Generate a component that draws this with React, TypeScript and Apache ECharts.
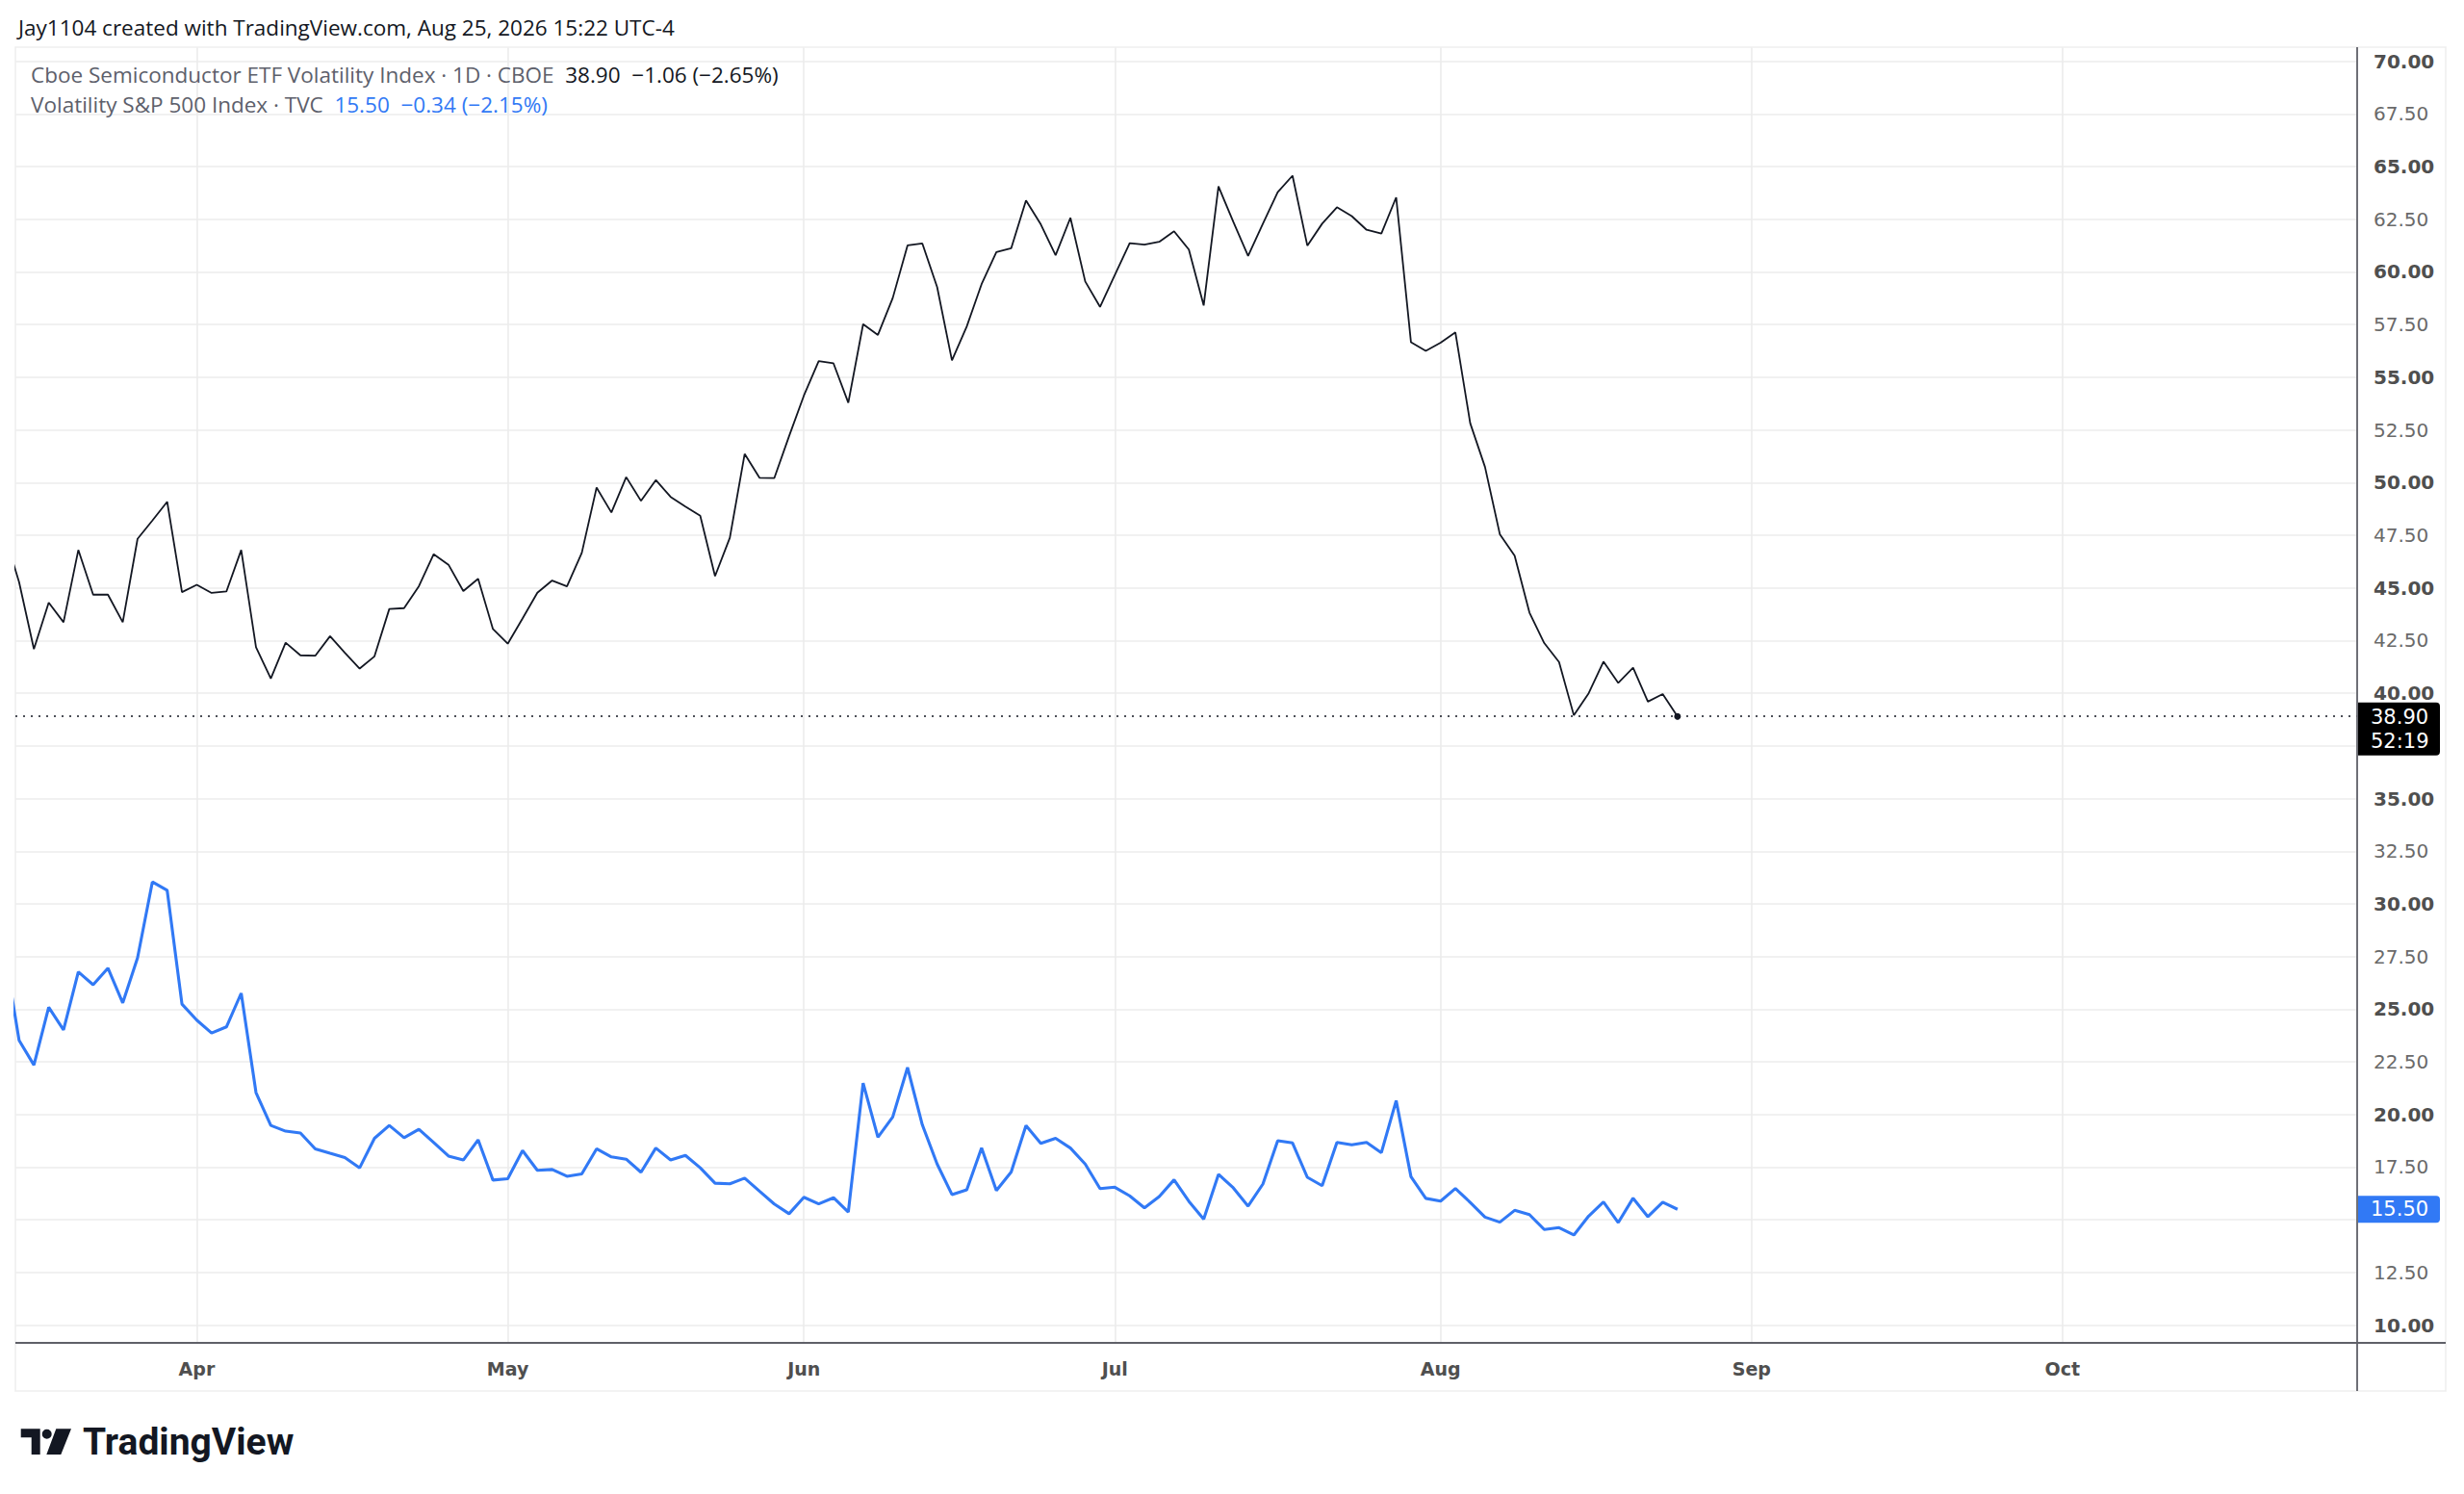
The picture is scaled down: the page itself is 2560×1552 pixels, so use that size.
import React, { useEffect, useRef } from "react";
import * as echarts from "echarts";

// ---------- texts ----------
const HEADER = "Jay1104 created with TradingView.com, Aug 25, 2026 15:22 UTC-4";
const SOX_NAME = "Cboe Semiconductor ETF Volatility Index · 1D · CBOE";
const VIX_NAME = "Volatility S&P 500 Index · TVC";
const COUNTDOWN = "52:19";
const BRAND = "TradingView";
const MONTHS = ["Jan", "Feb", "Mar", "Apr", "May", "Jun", "Jul", "Aug", "Sep", "Oct", "Nov", "Dec"];

// ---------- calendar (trading days) ----------
const FIRST_DATE = "2026-03-13";
const AXIS_END_DATE = "2026-10-31";
const HOLIDAYS = ["2026-04-03", "2026-05-25", "2026-06-19", "2026-07-03", "2026-09-07"];

// ---------- series values (daily closes, from 2026-03-13) ----------
const SOX_VIX = [
  47.6, 45.27, 42.1, 44.3, 43.37, 46.8, 44.68, 44.68, 43.37, 47.33, 48.2, 49.09, 44.8,
  45.15, 44.76, 44.83, 46.8, 42.18, 40.7, 42.4, 41.8, 41.78, 42.71, 41.92, 41.17, 41.75,
  44.0, 44.04, 45.08, 46.6, 46.1, 44.85, 45.43, 43.05,
  42.35, 43.55, 44.77, 45.35, 45.07, 46.66, 49.76, 48.58, 50.26, 49.13, 50.12, 49.32,
  48.86, 48.43, 45.56, 47.38, 51.36, 50.23, 50.21, 52.2,
  54.13, 55.77, 55.66, 53.79, 57.52, 57.01, 58.76, 61.26, 61.35, 59.28, 55.8, 57.41,
  59.42, 60.94, 61.12, 63.39, 62.26, 60.79, 62.57, 59.55, 58.34,
  59.86, 61.36, 61.3, 61.43, 61.93, 61.06, 58.41, 64.06, 62.38, 60.76, 62.29, 63.79,
  64.57, 61.25, 62.29, 63.07, 62.65, 62.0, 61.82, 63.54, 56.66, 56.25,
  56.64, 57.13, 52.82, 50.74, 47.55, 46.53, 43.83, 42.38, 41.48, 38.95, 40.0, 41.5,
  40.49, 41.21, 39.6, 39.96, 38.9,
];

const VIX = [
  27.8, 23.52, 22.35, 25.09, 24.02, 26.77, 26.16, 26.95, 25.3, 27.44, 31.04, 30.64, 25.24,
  24.48, 23.87, 24.16, 25.76, 21.04, 19.48, 19.21, 19.12, 18.37, 18.16, 17.96, 17.47, 18.87,
  19.48, 18.9, 19.3, 18.67, 18.03, 17.84, 18.8, 16.89,
  16.95, 18.29, 17.35, 17.39, 17.07, 17.18, 18.37, 17.99, 17.88, 17.26, 18.41, 17.84,
  18.06, 17.47, 16.74, 16.71, 16.98, 16.36, 15.75, 15.29,
  16.07, 15.76, 16.05, 15.37, 21.49, 18.92, 19.88, 22.23, 19.51, 17.65, 16.2, 16.43,
  18.41, 16.39, 17.27, 19.48, 18.63, 18.87, 18.41, 17.65, 16.48,
  16.55, 16.14, 15.57, 16.11, 16.9, 15.88, 15.03, 17.16, 16.52, 15.65, 16.7, 18.76,
  18.65, 17.02, 16.62, 18.68, 18.56, 18.68, 18.19, 20.66, 17.05, 16.02,
  15.89, 16.49, 15.83, 15.13, 14.89, 15.45, 15.25, 14.54, 14.63, 14.28, 15.18, 15.85,
  14.87, 16.03, 15.15, 15.84, 15.5,
];

// ---------- axis ----------
const Y_TICKS = [10, 12.5, 15, 17.5, 20, 22.5, 25, 27.5, 30, 32.5, 35, 37.5, 40, 42.5, 45, 47.5, 50, 52.5, 55, 57.5, 60, 62.5, 65, 67.5, 70];
const Y_MIN = 9.16;
const Y_MAX = 70.67;
const X_MIN = 0.75;
const X_MAX = 158.9;

// ---------- colours ----------
const BLACK = "#131722";
const BLUE = "#3179f5";
const GRID = "#ececec";
const AXIS = "#5f6068";

function tradingDays(start: string, end: string, holidays: string[]): string[] {
  const out: string[] = [];
  const d = new Date(start + "T00:00:00Z");
  const e = new Date(end + "T00:00:00Z");
  while (d <= e) {
    const wd = d.getUTCDay();
    const iso = d.toISOString().slice(0, 10);
    if (wd !== 0 && wd !== 6 && holidays.indexOf(iso) < 0) out.push(iso);
    d.setUTCDate(d.getUTCDate() + 1);
  }
  return out;
}

const fmtChange = (last: number, prev: number) => {
  const ch = last - prev;
  const pct = (ch / prev) * 100;
  const sign = (v: number) => (v < 0 ? "\u2212" : "+") + Math.abs(v).toFixed(2);
  return `${sign(ch)} (${sign(pct)}%)`;
};

const LOGO_D =
  "M0 0 H20 V26.7 H11 V9 H0 Z M22 5.4 A5 5 0 1 0 32 5.4 A5 5 0 1 0 22 5.4 Z M36.6 0 H52.3 L41.6 26.7 H26.6 Z";

export default function App() {
  const ref = useRef<HTMLDivElement>(null);

  useEffect(() => {
    document.body.style.margin = "0";
    document.body.style.overflow = "hidden";
    if (!ref.current) return;
    try {
      echarts.graphic.registerShape("tvlogo", echarts.graphic.extendPath(LOGO_D, {}) as any);
    } catch (e) {}
    const chart = echarts.init(ref.current, null, { renderer: "svg" });

    const dates = tradingDays(FIRST_DATE, AXIS_END_DATE, HOLIDAYS);
    const monthIdx: number[] = [];
    for (let i = 1; i < dates.length; i++) {
      if (dates[i].slice(5, 7) !== dates[i - 1].slice(5, 7)) monthIdx.push(i);
    }
    const soxData = SOX_VIX.map((v, i) => [i, v]);
    const vixData = VIX.map((v, i) => [i, v]);
    const nS = SOX_VIX.length;
    const nV = VIX.length;
    const lastS = SOX_VIX[nS - 1];
    const lastV = VIX[nV - 1];

    // labels covered by the price tags on the scale are not drawn
    const yLabelValues = Y_TICKS.filter(
      (v) => !(v > lastS - 2.0 && v < lastS + 0.7) && !(Math.abs(v - lastV) < 0.8)
    );

    const yFont = "DejaVu Sans";
    const uiFont = "Open Sans";
    const uiSize = 22.5;

    chart.setOption({
      animation: false,
      backgroundColor: "#ffffff",
      grid: {
        left: 16,
        top: 49,
        right: 2560 - 2449,
        bottom: 1552 - 1395,
        containLabel: false,
        outerBoundsMode: "none",
      } as any,
      xAxis: {
        type: "value",
        min: X_MIN,
        max: X_MAX,
        axisLine: { show: false },
        axisTick: { show: false, customValues: monthIdx },
        axisLabel: {
          customValues: monthIdx,
          formatter: (v: number) => MONTHS[parseInt(dates[Math.round(v)].slice(5, 7), 10) - 1],
          color: "#4f4f4f",
          fontFamily: yFont,
          fontWeight: "bold",
          fontSize: 19,
          margin: 17,
        },
        splitLine: { show: true, lineStyle: { color: GRID, width: 1.6 } },
      } as any,
      yAxis: {
        type: "value",
        position: "right",
        min: Y_MIN,
        max: Y_MAX,
        axisLine: { show: false },
        axisTick: { show: false, customValues: Y_TICKS },
        axisLabel: {
          customValues: yLabelValues,
          margin: 17,
          formatter: (v: number) => (v % 5 === 0 ? `{b|${v.toFixed(2)}}` : `{n|${v.toFixed(2)}}`),
          rich: {
            b: { fontFamily: yFont, fontWeight: "bold", fontSize: 20, color: "#4f4f4f" },
            n: { fontFamily: yFont, fontSize: 20, color: "#6a6a6a" },
          },
        },
        splitLine: { show: true, lineStyle: { color: GRID, width: 1.6 } },
      } as any,
      series: [
        {
          name: "VIX",
          type: "line",
          data: vixData,
          showSymbol: false,
          clip: true,
          z: 3,
          lineStyle: { color: BLUE, width: 3.1 },
          itemStyle: { color: BLUE },
          markLine: {
            silent: true,
            symbol: ["none", "none"],
            data: [{ yAxis: lastV }],
            lineStyle: { color: "rgba(0,0,0,0)", width: 0 },
            label: {
              show: true,
              position: "end",
              distance: 1,
              formatter: lastV.toFixed(2),
              backgroundColor: BLUE,
              color: "#ffffff",
              fontFamily: yFont,
              fontSize: 21,
              lineHeight: 24,
              padding: [2, 13, 2, 13],
              borderRadius: [0, 4, 4, 0],
              width: 59,
            },
          },
        },
        {
          name: "SOX VIX",
          type: "line",
          data: soxData,
          showSymbol: false,
          clip: true,
          z: 4,
          lineStyle: { color: BLACK, width: 1.8 },
          itemStyle: { color: BLACK },
          markLine: {
            silent: true,
            symbol: ["none", "none"],
            data: [{ yAxis: lastS }],
            lineStyle: { color: BLACK, type: [2, 6], width: 1.7 },
            label: {
              position: "end",
              distance: 1,
              offset: [0, 13],
              formatter: `${lastS.toFixed(2)}\n${COUNTDOWN}`,
              backgroundColor: "#000000",
              color: "#ffffff",
              fontFamily: yFont,
              fontSize: 21,
              lineHeight: 25,
              padding: [3, 13, 2, 13],
              borderRadius: [0, 4, 4, 0],
              width: 59,
            },
          },
          markPoint: {
            silent: true,
            symbol: "circle",
            symbolSize: 7,
            itemStyle: { color: BLACK },
            label: { show: false },
            data: [{ coord: [nS - 1, lastS] }],
          },
        },
      ],
      graphic: [
        // pane frame
        {
          type: "rect",
          z: 1,
          silent: true,
          shape: { x: 16, y: 49, width: 2541 - 16, height: 1445 - 49 },
          style: { fill: "none", stroke: "#efefef", lineWidth: 1.6 },
        },
        // price axis line
        {
          type: "line",
          z: 10,
          silent: true,
          shape: { x1: 2449, y1: 49, x2: 2449, y2: 1445 },
          style: { stroke: AXIS, lineWidth: 1.8 },
        },
        // time axis line
        {
          type: "line",
          z: 10,
          silent: true,
          shape: { x1: 16, y1: 1395, x2: 2541, y2: 1395 },
          style: { stroke: AXIS, lineWidth: 1.8 },
        },
        {
          type: "text",
          z: 10,
          x: 19,
          y: 28,
          style: {
            text: HEADER,
            fontFamily: uiFont,
            fontSize: uiSize,
            fill: BLACK,
            verticalAlign: "middle",
          },
        },
        {
          type: "text",
          z: 10,
          x: 32,
          y: 77,
          style: {
            text: `{g|${SOX_NAME}}{k|  ${lastS.toFixed(2)}  ${fmtChange(lastS, SOX_VIX[nS - 2])}}`,
            verticalAlign: "middle",
            fontFamily: uiFont,
            fontSize: uiSize,
            rich: {
              g: { fontFamily: uiFont, fontSize: uiSize, fill: "#5d606b", color: "#5d606b" },
              k: { fontFamily: uiFont, fontSize: uiSize, fill: BLACK, color: BLACK },
            },
          },
        },
        {
          type: "text",
          z: 10,
          x: 32,
          y: 108,
          style: {
            text: `{g|${VIX_NAME}}{k|  ${lastV.toFixed(2)}  ${fmtChange(lastV, VIX[nV - 2])}}`,
            verticalAlign: "middle",
            fontFamily: uiFont,
            fontSize: uiSize,
            rich: {
              g: { fontFamily: uiFont, fontSize: uiSize, fill: "#5d606b", color: "#5d606b" },
              k: { fontFamily: uiFont, fontSize: uiSize, fill: BLUE, color: BLUE },
            },
          },
        },
        {
          type: "tvlogo",
          z: 10,
          x: 21.7,
          y: 1484.3,
          style: { fill: BLACK },
        } as any,
        {
          type: "text",
          z: 10,
          x: 86,
          y: 1498,
          style: {
            text: BRAND,
            fontFamily: "Roboto",
            fontWeight: "bold",
            fontSize: 39,
            fill: BLACK,
            verticalAlign: "middle",
          },
        },
      ],
    } as any);

    return () => chart.dispose();
  }, []);

  return <div ref={ref} style={{ width: 2560, height: 1552 }} />;
}
